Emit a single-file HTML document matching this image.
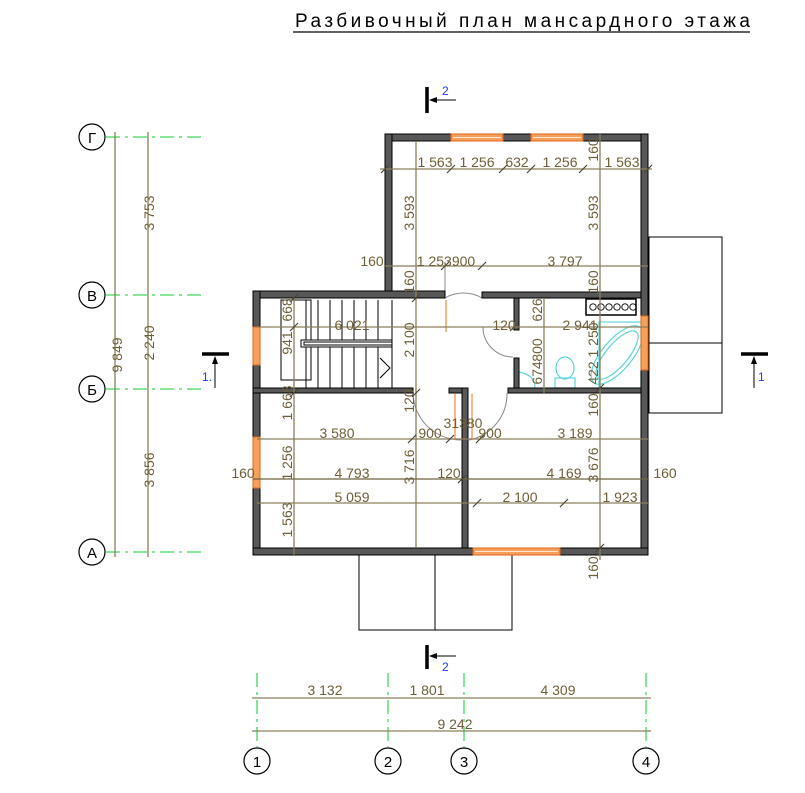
<!DOCTYPE html>
<html><head><meta charset="utf-8"><style>
html,body{margin:0;padding:0;background:#fff;}
svg{display:block;font-family:"Liberation Sans",sans-serif;}
.w{fill:#585858;stroke:#000;stroke-width:1;}
.o{fill:#f7a05a;stroke:#e0661a;stroke-width:1;}
.d{stroke:#8a7f5c;stroke-width:1.3;fill:none;}
.t{fill:#6e5f36;font-size:14px;}
.g{stroke:#3ddc5a;stroke-width:1.3;stroke-dasharray:14,5,3,5;}
.c{fill:#fff;stroke:#000;stroke-width:1.2;}
.ct{font-size:15px;fill:#000;text-anchor:middle;}
.k{stroke:#4d4530;stroke-width:1.2;}
.cy{fill:none;stroke:#5fd6dc;stroke-width:1.2;}
</style></head><body>
<svg width="805" height="793" viewBox="0 0 805 793" xmlns="http://www.w3.org/2000/svg">
<text x="295" y="27" font-size="19" fill="#000" textLength="455" lengthAdjust="spacing">Разбивочный план мансардного этажа</text>
<line x1="293" y1="32" x2="750" y2="32" stroke="#000" stroke-width="1.2"/>

<!-- left axes -->
<g>
<line class="g" x1="106" y1="137" x2="205" y2="137"/>
<line class="g" x1="106" y1="295" x2="205" y2="295"/>
<line class="g" x1="106" y1="389" x2="205" y2="389"/>
<line class="g" x1="106" y1="552" x2="205" y2="552"/>
<circle class="c" cx="92" cy="137" r="13"/><text class="ct" x="92" y="143">Г</text>
<circle class="c" cx="92" cy="295" r="13"/><text class="ct" x="92" y="301">В</text>
<circle class="c" cx="92" cy="389" r="13"/><text class="ct" x="92" y="395">Б</text>
<circle class="c" cx="92" cy="552" r="13"/><text class="ct" x="92" y="558">А</text>
<line class="d" x1="115" y1="132" x2="115" y2="557"/>
<line class="d" x1="148" y1="132" x2="148" y2="557"/>
<text class="t" transform="translate(154,213) rotate(-90)" text-anchor="middle">3 753</text>
<text class="t" transform="translate(154,343) rotate(-90)" text-anchor="middle">2 240</text>
<text class="t" transform="translate(154,470) rotate(-90)" text-anchor="middle">3 856</text>
<text class="t" transform="translate(122,355) rotate(-90)" text-anchor="middle">9 849</text>
</g>

<!-- bottom axes -->
<g>
<line class="g" x1="257" y1="673" x2="257" y2="747"/>
<line class="g" x1="388" y1="673" x2="388" y2="747"/>
<line class="g" x1="464" y1="673" x2="464" y2="747"/>
<line class="g" x1="646" y1="673" x2="646" y2="747"/>
<circle class="c" cx="257" cy="761" r="13"/><text class="ct" x="257" y="767">1</text>
<circle class="c" cx="388" cy="761" r="13"/><text class="ct" x="388" y="767">2</text>
<circle class="c" cx="464" cy="761" r="13"/><text class="ct" x="464" y="767">3</text>
<circle class="c" cx="646" cy="761" r="13"/><text class="ct" x="646" y="767">4</text>
<line class="d" x1="252" y1="698" x2="651" y2="698"/>
<line class="d" x1="252" y1="731" x2="651" y2="731"/>
<text class="t" x="325" y="695" text-anchor="middle">3 132</text>
<text class="t" x="427" y="695" text-anchor="middle">1 801</text>
<text class="t" x="558" y="695" text-anchor="middle">4 309</text>
<text class="t" x="455" y="729" text-anchor="middle">9 242</text>
</g>

<!-- section marks -->
<g>
<line x1="427" y1="87" x2="427" y2="113" stroke="#000" stroke-width="3.5"/>
<line x1="430" y1="100" x2="456" y2="100" stroke="#000" stroke-width="1"/>
<polygon points="429,100 437,97 437,103" fill="#000"/>
<text x="442" y="95" font-size="12" fill="#1a3cff">2</text>
<line x1="427" y1="645" x2="427" y2="669" stroke="#000" stroke-width="3.5"/>
<line x1="430" y1="656" x2="456" y2="656" stroke="#000" stroke-width="1"/>
<polygon points="429,656 437,653 437,659" fill="#000"/>
<text x="442" y="671" font-size="12" fill="#1a3cff">2</text>
<line x1="202" y1="354" x2="229" y2="354" stroke="#000" stroke-width="3.5"/>
<line x1="215" y1="357" x2="215" y2="388" stroke="#000" stroke-width="1"/>
<polygon points="215,356 212,364 218,364" fill="#000"/>
<text x="202" y="381" font-size="12" fill="#1a3cff">1.</text>
<line x1="741" y1="354" x2="768" y2="354" stroke="#000" stroke-width="3.5"/>
<line x1="754" y1="357" x2="754" y2="388" stroke="#000" stroke-width="1"/>
<polygon points="754,356 751,364 757,364" fill="#000"/>
<text x="758" y="381" font-size="12" fill="#1a3cff">1</text>
</g>

<!-- outside boxes -->
<g fill="none" stroke="#000" stroke-width="1">
<rect x="649" y="237" width="73" height="176"/>
<line x1="649" y1="343" x2="722" y2="343"/>
<rect x="359" y="555" width="153" height="75"/>
<line x1="435" y1="555" x2="435" y2="630"/>
</g>

<!-- stairs -->
<g stroke="#000" stroke-width="1" fill="none">
<rect x="281" y="300" width="30" height="80"/>
<rect x="301" y="340" width="91" height="7" fill="#fff"/>
<rect x="304" y="342" width="88" height="3"/>
<line x1="392" y1="300" x2="392" y2="388"/>
<g>
<line x1="306" y1="300" x2="306" y2="340"/><line x1="318" y1="300" x2="318" y2="340"/><line x1="330" y1="300" x2="330" y2="340"/><line x1="342" y1="300" x2="342" y2="340"/><line x1="354" y1="300" x2="354" y2="340"/><line x1="366" y1="300" x2="366" y2="340"/><line x1="378" y1="300" x2="378" y2="340"/>
<line x1="306" y1="347" x2="306" y2="388"/><line x1="318" y1="347" x2="318" y2="388"/><line x1="330" y1="347" x2="330" y2="388"/><line x1="342" y1="347" x2="342" y2="388"/><line x1="354" y1="347" x2="354" y2="388"/><line x1="366" y1="347" x2="366" y2="388"/><line x1="378" y1="347" x2="378" y2="388"/>
</g>
<polyline points="380,358 390,368 380,378"/>
</g>

<!-- doors -->
<g fill="none" stroke="#888" stroke-width="1">
<path d="M445,298 A37,37 0 0 1 482,298"/><line x1="445" y1="298" x2="445" y2="262"/>
<path d="M483,327 A30,30 0 0 0 513,357"/>
<path d="M413,393 A48,48 0 0 0 461,440"/>
<path d="M469,440 A47,47 0 0 0 507,393"/>
</g>
<g stroke="#f7a05a" stroke-width="1.5">
<line x1="446" y1="300" x2="446" y2="332"/>
<line x1="455" y1="394" x2="455" y2="440"/>
<line x1="472" y1="394" x2="472" y2="440"/>
</g>

<!-- bathroom fixtures -->
<g>
<rect x="586" y="299" width="50" height="16" fill="#fff" stroke="#000" stroke-width="1.5"/>
<g fill="none" stroke="#000" stroke-width="0.9">
<circle cx="593" cy="307" r="3.2"/><circle cx="601" cy="307" r="3.2"/><circle cx="609" cy="307" r="3.2"/><circle cx="617" cy="307" r="3.2"/><circle cx="625" cy="307" r="3.2"/><circle cx="633" cy="307" r="3.2"/>
</g>
<rect x="599" y="322" width="42" height="66" class="cy"/>
<ellipse class="cy" cx="617" cy="355" rx="15" ry="36" transform="rotate(40 617 355)"/>
<ellipse class="cy" cx="617" cy="355" rx="11" ry="30" transform="rotate(40 617 355)"/>
<ellipse class="cy" cx="565" cy="368" rx="9" ry="11"/>
<rect class="cy" x="555" y="378" width="20" height="10"/>
<path class="cy" d="M519,372 L519,388 L535,388 Q535,375 519,372Z"/>
</g>

<!-- walls -->
<g class="w">
<rect x="385" y="134" width="66" height="7"/>
<rect x="503" y="134" width="28" height="7"/>
<rect x="583" y="134" width="65" height="7"/>
<rect x="385" y="134" width="7" height="160"/>
<rect x="641" y="134" width="7" height="182"/>
<rect x="641" y="370" width="7" height="185"/>
<rect x="253" y="291" width="192" height="7"/>
<rect x="482" y="292" width="159" height="6"/>
<rect x="253" y="291" width="7" height="36"/>
<rect x="253" y="365" width="7" height="72"/>
<rect x="253" y="488" width="7" height="67"/>
<rect x="253" y="548" width="220" height="7"/>
<rect x="560" y="548" width="88" height="7"/>
<rect x="253" y="388" width="160" height="5"/>
<rect x="449" y="388" width="19" height="5"/>
<rect x="462" y="388" width="6" height="160"/>
<rect x="514" y="298" width="5" height="32"/>
<rect x="514" y="358" width="5" height="35"/>
<rect x="508" y="388" width="133" height="5"/>
</g>
<!-- windows -->
<g class="o">
<rect x="451" y="134" width="52" height="7"/>
<rect x="531" y="134" width="52" height="7"/>
<rect x="253" y="327" width="7" height="38"/>
<rect x="253" y="437" width="7" height="51"/>
<rect x="473" y="548" width="87" height="7"/>
<rect x="641" y="316" width="7" height="54"/>
</g>
<g stroke="#fff" stroke-width="0.8">
<line x1="453" y1="137.5" x2="501" y2="137.5"/><line x1="533" y1="137.5" x2="581" y2="137.5"/>
<line x1="475" y1="551.5" x2="558" y2="551.5"/>
</g>

<!-- interior dimensions -->
<g class="d">
<line x1="380" y1="169" x2="652" y2="169"/>
<line x1="416" y1="141" x2="416" y2="298"/>
<line x1="600" y1="134" x2="600" y2="298"/>
<line x1="385" y1="266" x2="648" y2="266"/>
<line x1="257" y1="327" x2="648" y2="327"/>
<line x1="416" y1="298" x2="416" y2="548"/>
<line x1="294" y1="298" x2="294" y2="555"/>
<line x1="544" y1="298" x2="544" y2="393"/>
<line x1="600" y1="298" x2="600" y2="560"/>
<line x1="257" y1="439" x2="648" y2="439"/>
<line x1="253" y1="479" x2="648" y2="479" stroke="#6e6440"/>
<line x1="257" y1="503" x2="648" y2="503"/>
</g>
<g class="k">
<line x1="447" y1="173" x2="455" y2="165"/><line x1="499" y1="173" x2="507" y2="165"/><line x1="527" y1="173" x2="535" y2="165"/><line x1="579" y1="173" x2="587" y2="165"/>
<line x1="381" y1="173" x2="389" y2="165"/><line x1="644" y1="173" x2="652" y2="165"/>
<line x1="441" y1="270" x2="449" y2="262"/><line x1="478" y1="270" x2="486" y2="262"/>
<line x1="510" y1="331" x2="518" y2="323"/><line x1="290" y1="331" x2="298" y2="323"/>
<line x1="412" y1="302" x2="420" y2="294"/><line x1="412" y1="397" x2="420" y2="389"/>
<line x1="290" y1="302" x2="298" y2="294"/><line x1="290" y1="397" x2="298" y2="389"/>
<line x1="446" y1="443" x2="454" y2="435"/><line x1="476" y1="443" x2="484" y2="435"/><line x1="408" y1="443" x2="416" y2="435"/>
<line x1="458" y1="483" x2="466" y2="475"/><line x1="473" y1="507" x2="481" y2="499"/><line x1="560" y1="507" x2="568" y2="499"/>
<line x1="596" y1="392" x2="604" y2="384"/><line x1="596" y1="552" x2="604" y2="544"/>
</g>
<g class="t">
<text x="435" y="167" text-anchor="middle">1 563</text>
<text x="477" y="167" text-anchor="middle">1 256</text>
<text x="517" y="167" text-anchor="middle">632</text>
<text x="560" y="167" text-anchor="middle">1 256</text>
<text x="622" y="167" text-anchor="middle">1 563</text>
<text class="t" transform="translate(414,213) rotate(-90)" text-anchor="middle">3 593</text>
<text class="t" transform="translate(598,213) rotate(-90)" text-anchor="middle">3 593</text>
<text class="t" transform="translate(598,150) rotate(-90)" text-anchor="middle">160</text>
<text x="372" y="266" text-anchor="middle">160</text>
<text x="446" y="266" text-anchor="middle">1 253900</text>
<text x="565" y="266" text-anchor="middle">3 797</text>
<text class="t" transform="translate(414,282) rotate(-90)" text-anchor="middle">160</text>
<text class="t" transform="translate(598,282) rotate(-90)" text-anchor="middle">160</text>
<text x="352" y="330" text-anchor="middle">6 021</text>
<text x="504" y="330" text-anchor="middle">120</text>
<text x="580" y="330" text-anchor="middle">2 941</text>
<text class="t" transform="translate(414,340) rotate(-90)" text-anchor="middle">2 100</text>
<text class="t" transform="translate(414,401) rotate(-90)" text-anchor="middle">120</text>
<text class="t" transform="translate(414,467) rotate(-90)" text-anchor="middle">3 716</text>
<text class="t" transform="translate(292,310) rotate(-90)" text-anchor="middle">668</text>
<text class="t" transform="translate(292,343) rotate(-90)" text-anchor="middle">941</text>
<text class="t" transform="translate(292,403) rotate(-90)" text-anchor="middle">1 668</text>
<text class="t" transform="translate(292,463) rotate(-90)" text-anchor="middle">1 256</text>
<text class="t" transform="translate(292,520) rotate(-90)" text-anchor="middle">1 563</text>
<text class="t" transform="translate(542,310) rotate(-90)" text-anchor="middle">626</text>
<text class="t" transform="translate(542,350) rotate(-90)" text-anchor="middle">800</text>
<text class="t" transform="translate(542,373) rotate(-90)" text-anchor="middle">674</text>
<text class="t" transform="translate(598,340) rotate(-90)" text-anchor="middle">1 250</text>
<text class="t" transform="translate(598,373) rotate(-90)" text-anchor="middle">422</text>
<text class="t" transform="translate(598,405) rotate(-90)" text-anchor="middle">160</text>
<text class="t" transform="translate(598,465) rotate(-90)" text-anchor="middle">3 676</text>
<text class="t" transform="translate(598,568) rotate(-90)" text-anchor="middle">160</text>
<text x="463" y="428" text-anchor="middle">31380</text>
<text x="337" y="438" text-anchor="middle">3 580</text>
<text x="430" y="438" text-anchor="middle">900</text>
<text x="490" y="438" text-anchor="middle">900</text>
<text x="575" y="438" text-anchor="middle">3 189</text>
<text x="243" y="478" text-anchor="middle">160</text>
<text x="352" y="478" text-anchor="middle">4 793</text>
<text x="449" y="478" text-anchor="middle">120</text>
<text x="564" y="478" text-anchor="middle">4 169</text>
<text x="665" y="478" text-anchor="middle">160</text>
<text x="352" y="502" text-anchor="middle">5 059</text>
<text x="520" y="502" text-anchor="middle">2 100</text>
<text x="620" y="502" text-anchor="middle">1 923</text>
</g>
</svg>
</body></html>
